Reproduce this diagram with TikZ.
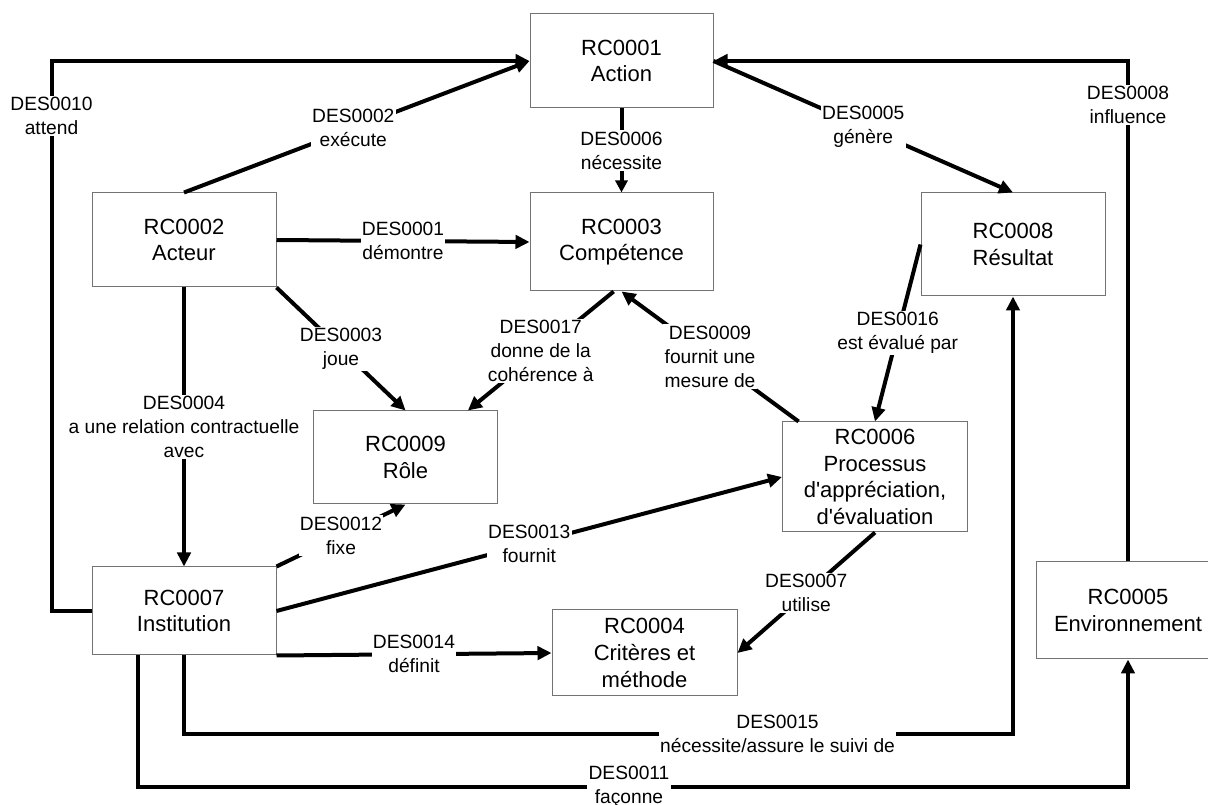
\documentclass[tikz,border=0pt]{standalone}
\usepackage{fontspec}
\setmainfont{Liberation Sans}
\usepackage{tikz}
\usetikzlibrary{arrows.meta}

\begin{document}
\begin{tikzpicture}[x=0.75pt,y=-0.75pt,
	>={Triangle[length=10.5pt,width=10pt]},
	rc/.style={draw=black!55,line width=0.75pt,rectangle,inner sep=0pt,align=center,
		font=\fontsize{16.5}{20}\selectfont},
	rel/.style={line width=3pt},
	des/.style={fill=white,inner sep=1pt,align=center,
		font=\fontsize{14.4}{18}\selectfont}]

	\useasboundingbox (0,0) rectangle (1208,805);

	% Concepts (RC)
	% -------------
	\node[rc, minimum width=137.25pt, minimum height=70.5pt] (act) at (621.5,61) {RC0001\\Action};
	\node[rc, minimum width=137.25pt, minimum height=73.5pt] (comp) at (621.5,242) {RC0003\\Compétence};
	\node[rc, minimum width=138pt, minimum height=70.5pt] (acteur) at (184,240) {RC0002\\Acteur};
	\node[rc, minimum width=138pt, minimum height=77.25pt] (res) at (1013,244.5) {RC0008\\Résultat};
	\node[rc, minimum width=138pt, minimum height=69.75pt] (role) at (405.5,457.5) {RC0009\\Rôle};
	\node[rc, minimum width=138.75pt, minimum height=82.5pt] (proc) at (875,477)
		{RC0006\\Processus\\d\textquotesingle appréciation,\\d\textquotesingle évaluation};
	\node[rc, minimum width=138pt, minimum height=66pt] (inst) at (184,611) {RC0007\\Institution};
	\node[rc, minimum width=138.75pt, minimum height=64.5pt] (crit) at (644.5,653) {RC0004\\Critères et\\méthode};
	\node[rc, minimum width=138pt, minimum height=72.75pt] (env) at (1128,610.5) {RC0005\\Environnement};

	% Relations (DES)
	% ---------------
	\draw [rel,->] (acteur.east) -- (comp.west) node[des,midway]{DES0001\\démontre};
	\draw [rel,->] (acteur.north) -- (act.west) node[des,pos=0.49]{DES0002\\exécute};
	\draw [rel,->] (acteur.south east) -- (role.north) node[des,midway]{DES0003\\joue};
	\draw [rel,->] (acteur.south) -- (inst.north) node[des,midway]{DES0004\\a une relation contractuelle\\avec};
	\draw [rel,->] (act.east) -- (res.north) node[des,midway]{DES0005\\génère};
	\draw [rel,-{Triangle[length=9pt,width=9pt]}] (act.south) -- (comp.north) node[des,midway]{DES0006\\nécessite};
	\draw [rel,->] (proc.south) -- (crit.east) node[des,midway]{DES0007\\utilise};
	\draw [rel,->] (env.north) |- (act.east) node[des,pos=0.456]{DES0008\\influence};
	\draw [rel,->] (proc.144) -- (comp.south) node[des,midway]{DES0009\\fournit une\\mesure de};
	\draw [rel,->] (inst.west) -- ++(-40,0) |- (act.west) node[des,pos=0.45]{DES0010\\attend};
	\draw [rel,->] (inst.224) -- ++(0,131) -| (env.south) node[des,pos=0.248]{DES0011\\façonne};
	\draw [rel,->] (inst.north east) -- (role.south) node[des,midway]{DES0012\\fixe};
	\draw [rel,->] (inst.east) -- (proc.west) node[des,midway]{DES0013\\fournit};
	\draw [rel,->] (inst.south east) -- (crit.west) node[des,midway]{DES0014\\définit};
	\draw [rel,->] (inst.south) -- ++(0,78) -| (res.south) node[des,pos=0.358]{DES0015\\nécessite/assure le suivi de};
	\draw [rel,->] (res.west) -- (proc.north) node[des,midway]{DES0016\\est évalué par};
	\draw [rel,->] (comp.261) -- (role.37) node[des,midway]{DES0017\\donne de la\\cohérence à};

\end{tikzpicture}
\end{document}
